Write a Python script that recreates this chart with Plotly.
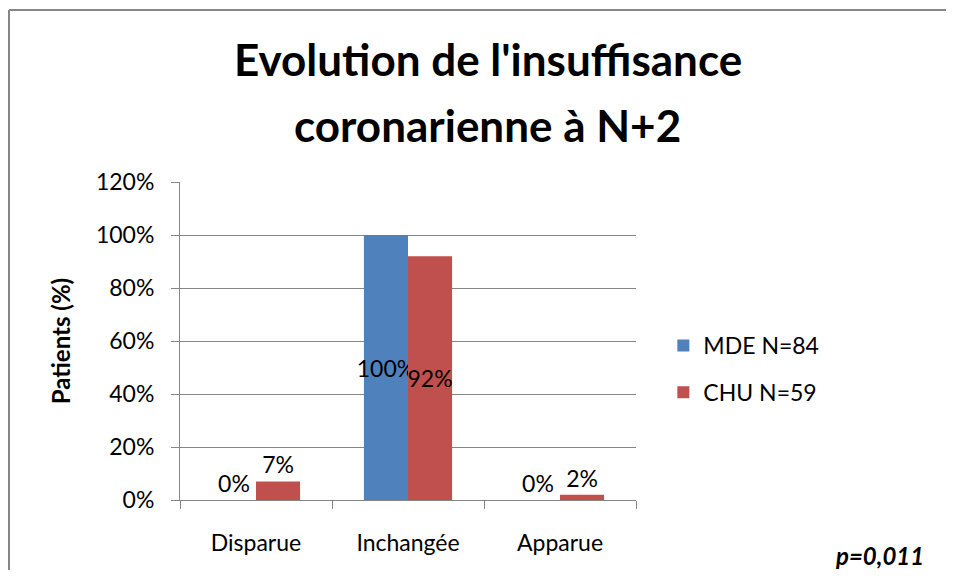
import plotly.graph_objects as go

categories = ["Disparue", "Inchangée", "Apparue"]
mde_values = [0.0, 1.00, 0.0]
chu_values = [0.07, 0.92, 0.02]
mde_name = "MDE N=84"
chu_name = "CHU N=59"
title_lines = ["Evolution de l'insuffisance", "coronarienne à N+2"]
p_value_text = "p=0,011"

FONT = "Lato, Calibri, 'Open Sans', sans-serif"
GRID = "#868686"


def _labels(vals):
    return [f"{round(v * 100)}%" for v in vals]


def _positions(vals):
    return ["inside" if v >= 0.3 else "outside" for v in vals]


fig = go.Figure()
for name, vals, color in [
    (mde_name, mde_values, "#4F81BD"),
    (chu_name, chu_values, "#C0504D"),
]:
    fig.add_trace(go.Bar(
        x=categories,
        y=vals,
        name=name,
        legendgroup=name,
        marker=dict(color=color, line=dict(width=0)),
        text=_labels(vals),
        textposition=_positions(vals),
        insidetextanchor="middle",
        textangle=0,
        constraintext="none",
        cliponaxis=False,
        textfont=dict(family=FONT, size=23, color="black"),
    ))

# page has an 8px body margin, so the figure is 16px smaller than the window
fig.update_layout(
    width=939,
    height=562,
    paper_bgcolor="white",
    plot_bgcolor="white",
    margin=dict(l=172, r=311, t=174, b=70),
    barmode="group",
    bargap=0.42,
    bargroupgap=0,
    font=dict(family=FONT, size=23, color="black"),
    showlegend=True,
    legend=dict(
        x=1.06, y=0.412, xanchor="left", yanchor="middle",
        traceorder="grouped", tracegroupgap=14,
        font=dict(family=FONT, size=23, color="black"),
    ),
)

fig.update_yaxes(
    range=[0, 1.2], dtick=0.2, tickformat=".0%",
    showgrid=True, gridcolor=GRID, gridwidth=1,
    showline=True, linecolor=GRID, linewidth=1,
    ticks="outside", ticklen=8, tickcolor=GRID,
    zeroline=False,
    tickfont=dict(family=FONT, size=23),
    ticklabelstandoff=12,
    title=dict(text="<b>Patients (%)</b>", font=dict(family=FONT, size=24), standoff=18),
)
fig.update_xaxes(
    showline=True, linecolor=GRID, linewidth=1,
    ticks="outside", ticklen=8, tickcolor=GRID,
    tickson="boundaries", showgrid=False,
    tickfont=dict(family=FONT, size=23),
    ticklabelstandoff=22,
)

# title, two lines with Excel-like spacing
for text, ypos in zip(title_lines, [1.387, 1.180]):
    fig.add_annotation(text=f"<b>{text}</b>", xref="paper", yref="paper",
                       x=0.675, y=ypos, xanchor="center", yanchor="middle",
                       showarrow=False,
                       font=dict(family=FONT, size=44, color="black"))

fig.add_annotation(text=f"<b><i>{p_value_text}</i></b>", xref="paper", yref="paper",
                   x=1.535, y=-0.173, xanchor="center", yanchor="middle",
                   showarrow=False,
                   font=dict(family=FONT, size=24, color="black"))

# chart area border: left and top edges only, stopping at the figure edges
fig.add_shape(type="line", xref="paper", yref="paper",
              x0=-0.375, x1=-0.375, y0=1.541, y1=-0.22,
              line=dict(color=GRID, width=2))
fig.add_shape(type="line", xref="paper", yref="paper",
              x0=-0.375, x1=1.68, y0=1.541, y1=1.541,
              line=dict(color=GRID, width=2))

fig.write_html("out.html")
